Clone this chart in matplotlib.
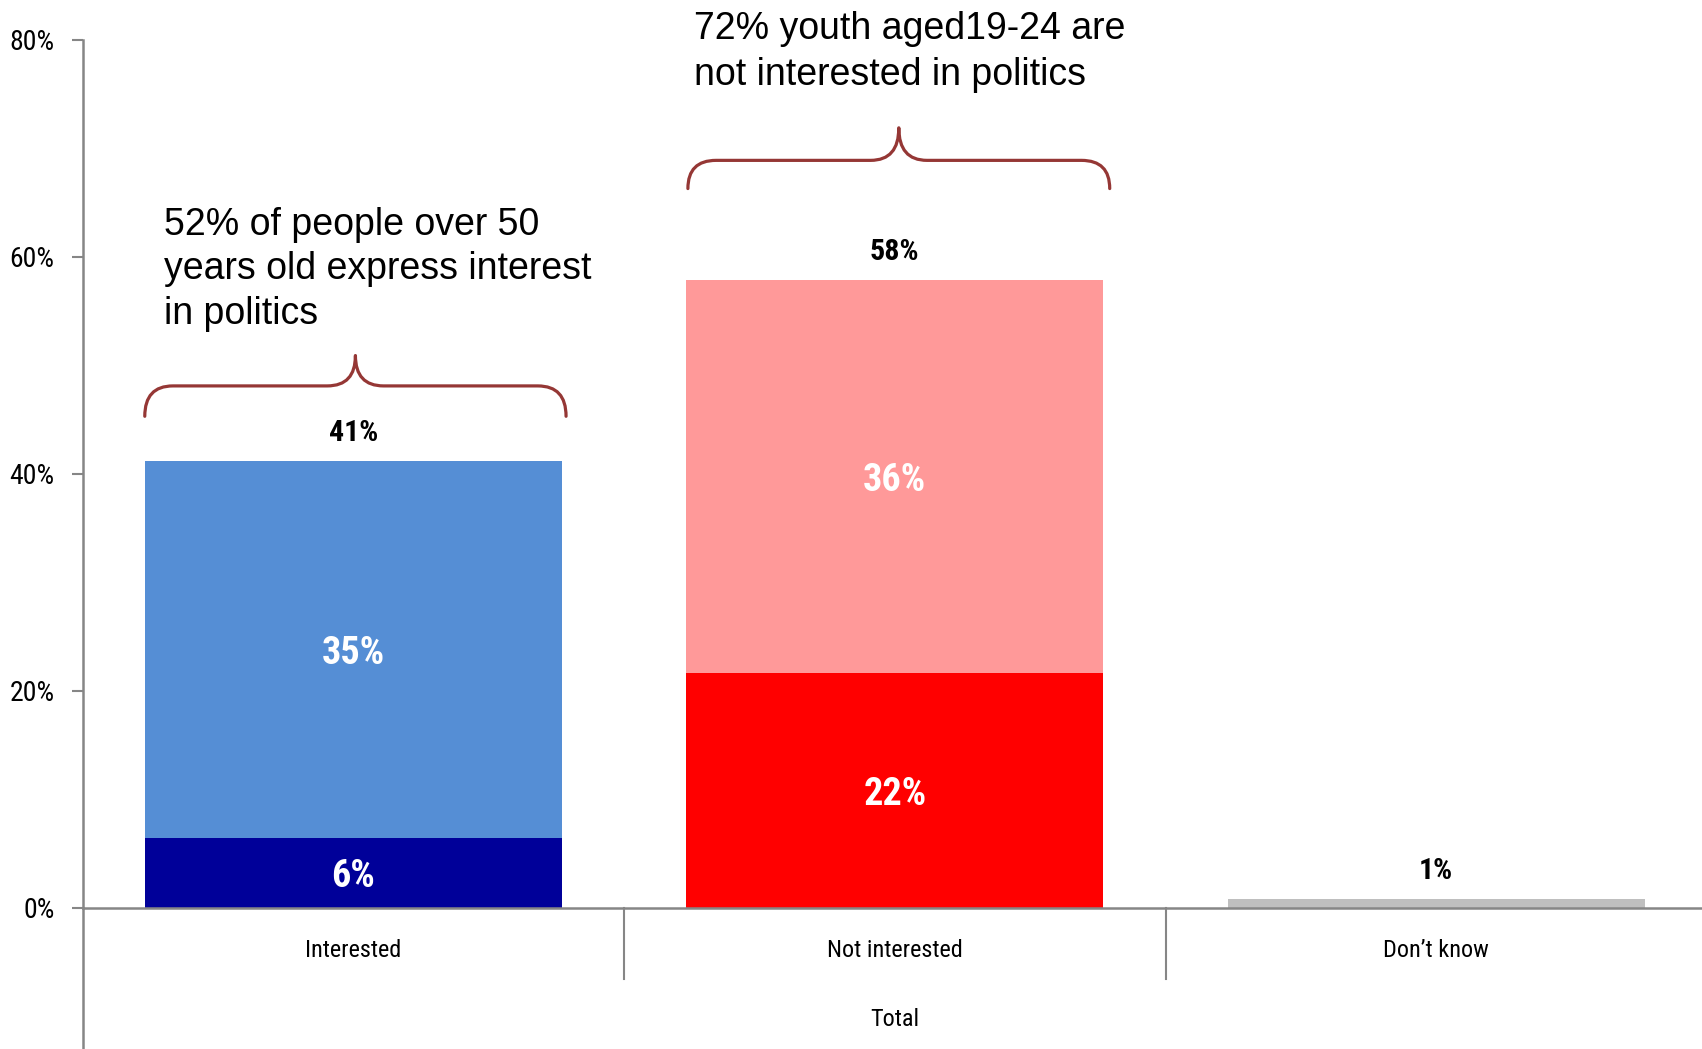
import matplotlib
matplotlib.use("Agg")
import matplotlib.pyplot as plt
from matplotlib.path import Path
from matplotlib.patches import PathPatch

# 資料
categories = ["Interested", "Not interested", "Don\u2019t know"]
lower = [6.4, 21.6, 0.8]
upper = [34.8, 36.3, 0.0]
lower_colors = ["#000099", "#FF0000", "#BFBFBF"]
upper_colors = ["#558ED5", "#FF9999", "#BFBFBF"]
group_label = "Total"
yticks = [0, 20, 40, 60, 80]
notes = ["52% of people over 50\nyears old express interest\nin politics",
         "72% youth aged19-24 are\nnot interested in politics"]

# 窄字型（類似 Arial Narrow）
narrow = ["Roboto Condensed", "Archivo Narrow", "DejaVu Sans"]
plt.rcParams["font.family"] = narrow

W, H = 1702, 1049
fig = plt.figure(figsize=(W / 100, H / 100), dpi=100)
ax = fig.add_axes([82.5 / W, (H - 907.5) / H, (1707 - 82.5) / W, 867.5 / H])

x = range(len(categories))
totals = [a + b for a, b in zip(lower, upper)]
bw = 0.77
ax.bar(x, lower, width=bw, color=lower_colors, zorder=2)
ax.bar(x, upper, width=bw, bottom=lower, color=upper_colors, zorder=2)

# 區段內的數字
for i in range(2):
    ax.text(i, lower[i] / 2 - 0.35, "%.0f%%" % lower[i], ha="center", va="center",
            color="white", fontsize=27.5, fontweight="bold")
    ax.text(i, lower[i] + upper[i] / 2 - 0.35, "%.0f%%" % upper[i], ha="center",
            va="center", color="white", fontsize=27.5, fontweight="bold")

# 總計
for i, t in enumerate(totals):
    ax.annotate("%.0f%%" % t, (i, t), xytext=(0, 20), textcoords="offset points",
                ha="center", va="center", fontsize=21.5, fontweight="bold")

ax.set_xlim(-0.5, 2.5)
ax.set_ylim(0, 80)
ax.set_yticks(yticks)
ax.set_yticklabels(["%d%%" % v for v in yticks])
ax.set_xticks(list(x))
ax.set_xticklabels(categories)
ax.tick_params(axis="y", length=8, width=1.5, color="#868686", pad=12, labelsize=20)
ax.tick_params(axis="x", length=0, pad=23, labelsize=17.5)

for s in ["top", "right"]:
    ax.spines[s].set_visible(False)
for s in ["left", "bottom"]:
    ax.spines[s].set_color("#868686")
    ax.spines[s].set_linewidth(1.8)

# 分類分隔線
tr = ax.get_xaxis_transform()
ax.plot([-0.5, -0.5], [0, -(H - 907.5) / 867.5], transform=tr, color="#868686",
        lw=1.8, clip_on=False)
for sx in [0.5, 1.5]:
    ax.plot([sx, sx], [0, -(979 - 907.5) / 867.5], transform=tr, color="#868686",
            lw=1.5, clip_on=False)
ax.text(1, -(1019 - 907.5) / 867.5, group_label, transform=tr, ha="center",
        va="center", fontsize=17.5)


# 大括號
def brace(x0, x1, y_end, y_flat, y_tip, r=0.052):
    xc = (x0 + x1) / 2
    verts = [(x0, y_end), (x0, y_flat), (x0 + r, y_flat),
             (xc - r, y_flat), (xc, y_flat), (xc, y_tip),
             (xc, y_flat), (xc + r, y_flat),
             (x1 - r, y_flat), (x1, y_flat), (x1, y_end)]
    codes = [Path.MOVETO, Path.CURVE3, Path.CURVE3,
             Path.LINETO, Path.CURVE3, Path.CURVE3,
             Path.CURVE3, Path.CURVE3,
             Path.LINETO, Path.CURVE3, Path.CURVE3]
    ax.add_patch(PathPatch(Path(verts, codes), fill=False, edgecolor="#953735",
                           lw=2.3, capstyle="round", joinstyle="round", clip_on=False))


brace(-bw / 2, bw / 2 + 0.008, 45.3, 48.1, 50.9)
brace(1 - bw / 2 + 0.003, 1 + bw / 2 + 0.012, 66.3, 68.9, 71.9)

ax.text(-0.349, 64.6, notes[0], ha="left", va="top", fontsize=27,
        family=["Liberation Sans", "DejaVu Sans"], linespacing=1.3)
ax.text(0.629, 82.7, notes[1], ha="left", va="top", fontsize=27,
        family=["Liberation Sans", "DejaVu Sans"], linespacing=1.35)

fig.savefig("out.png", dpi=100)
